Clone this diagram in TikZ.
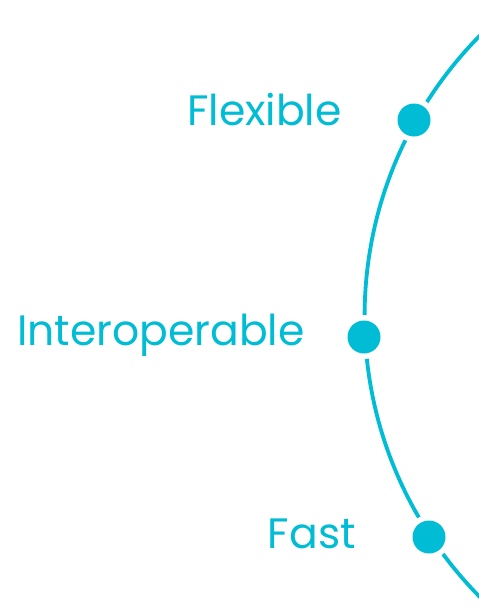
\documentclass[tikz,border=0pt]{standalone}
\usepackage{fontspec}
\setmainfont{Poppins}
\definecolor{cy}{RGB}{0,188,212}
\begin{document}
\begin{tikzpicture}[x=1pt,y=-1pt,
  dot/.style={circle,fill=cy,minimum size=33pt,inner sep=0pt},
  gap/.style={circle,fill=white,minimum size=44pt,inner sep=0pt},
  lab/.style={text=cy,font=\fontsize{42.5}{50}\selectfont,inner sep=0pt,anchor=base east}]
\useasboundingbox[fill=white] (0,0) rectangle (479,614);
\begin{scope}
\clip (0,0) rectangle (479,614);
\draw[cy,line width=3.8pt] (764,316.3) circle[radius=399.4pt];
\end{scope}
\node[gap] (g1) at (414,120) {};
\node[gap] (g2) at (364,337) {};
\node[gap] (g3) at (429,537) {};
\node[dot] (d1) at (414,120) {};
\node[dot] (d2) at (364,337) {};
\node[dot] (d3) at (429,537) {};
\node[lab] (t1) at (342,125) {Flexible};
\node[lab] (t2) at (305,345) {Interoperable};
\node[lab] (t3) at (356,548) {Fast};
\end{tikzpicture}
\end{document}
